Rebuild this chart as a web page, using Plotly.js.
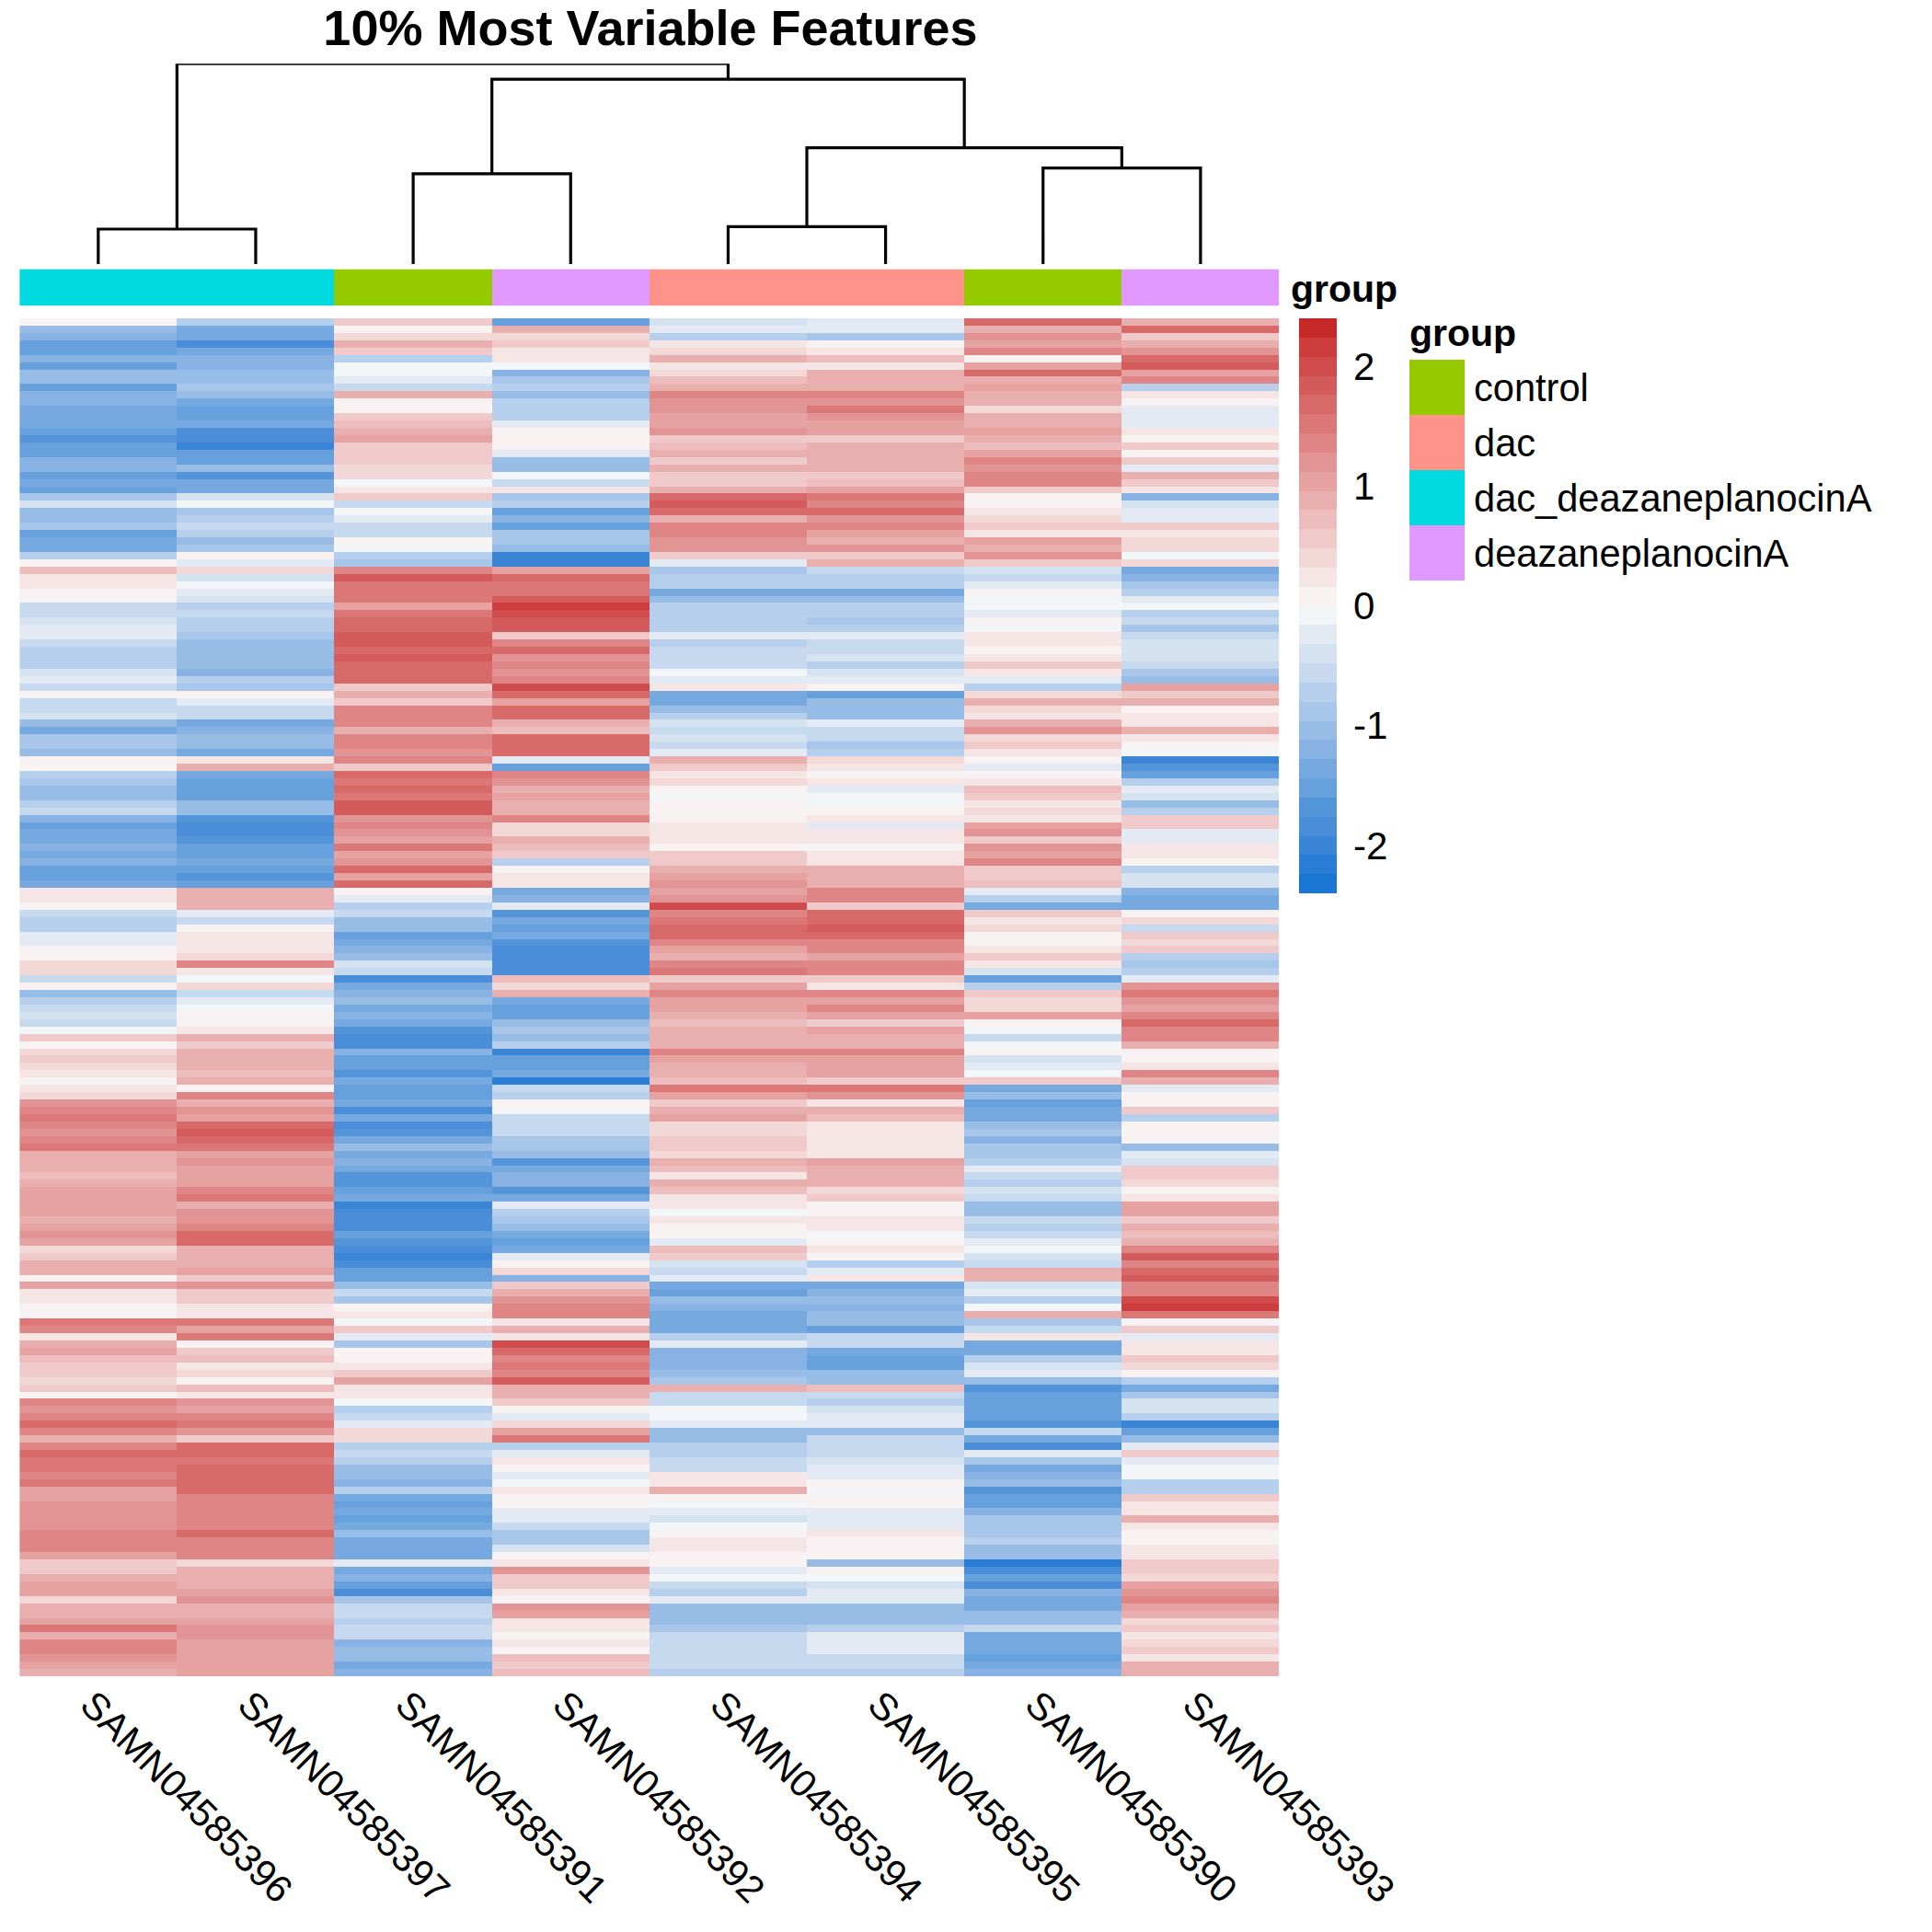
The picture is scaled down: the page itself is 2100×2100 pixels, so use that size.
<!DOCTYPE html>
<html>
<head>
<meta charset="utf-8">
<script src="https://cdn.plot.ly/plotly-3.0.1.min.js"></script>
<style>html,body{margin:0;padding:0;background:#fff}</style>
</head>
<body>
<div id="chart" style="width:2100px;height:2100px"></div>
<script>
const samples = ["SAMN04585396","SAMN04585397","SAMN04585391","SAMN04585392","SAMN04585394","SAMN04585395","SAMN04585390","SAMN04585393"];
const groupNames = ["control","dac","dac_deazaneplanocinA","deazaneplanocinA"];
const groupColors = ["#96CA00","#FF9289","#00DAE0","#E199FF"];
const sampleGroups = [2,2,0,3,1,1,0,3];

const s396 = [
0.1,-1.1,-1.2,-1.6,-1.6,-1.2,-1.5,-1.0,-1.0,-1.5,-1.2,-1.2,-1.3,-1.4,-1.3,-1.5,-1.7,-1.6,-1.6,-1.2,-1.2,-1.6,-1.4,
-1.5,-0.9,-0.4,-1.1,-1.0,-0.9,-1.5,-1.3,-1.3,-0.7,0,0.7,0.2,0.2,0.1,0.1,-0.5,-0.5,-0.4,-0.3,-0.3,-0.6,-0.8,-0.8,
-0.7,-0.4,-0.3,-0.6,0.1,-0.5,-0.6,-0.4,-1.0,-1.3,-0.9,-0.9,-1.0,0.1,0.1,-0.8,-0.9,-1.1,-1.1,-0.7,-0.6,-1.2,-1.5,-1.4,
-1.4,-1.2,-1.3,-1.2,-1.5,-1.6,-1.3,0.2,0.3,0,-0.6,-0.7,-0.7,-0.3,-0.2,0,0,0.4,0.4,-0.5,0.1,-1.0,-0.8,-0.6,
-0.4,-0.5,-0.1,0.6,0.1,0.4,0.5,0.4,0.2,0,0.2,0.4,1.2,1.3,1.5,1.3,1.2,1.4,1.5,0.9,0.8,0.8,0.7,0.8,
1.0,1.1,1.1,1.0,0.8,1.0,1.2,1.1,0.4,0.6,0.9,0.8,0,1.0,0.3,0.2,0,0.1,1.5,1.3,0.2,0.9,1.0,0.7,
0.5,0.5,0.4,0.5,0.1,1.4,1.2,1.4,1.7,1.4,0.8,1.4,1.6,1.5,1.5,1.4,1.5,1.1,1.1,1.2,1.2,1.2,1.2,1.4,
1.3,1.3,1.1,0.6,0.5,0.9,1.1,1.1,0.4,0.8,0.8,1.0,1.5,0.8,1.4,1.3,1.2,1.0,0.9];
const s397 = [
-0.7,-1.4,-1.4,-1.8,-1.4,-1.2,-1.2,-1.0,-1.0,-0.9,-1.1,-1.4,-1.5,-1.5,-1.4,-1.8,-1.8,-2.0,-1.6,-1.5,-1.0,-1.7,-1.4,
-1.4,-0.4,-0.1,-0.9,-0.8,-0.6,-0.8,-1.0,-0.9,0.1,-0.3,0.4,-0.4,-0.1,-0.3,-0.4,-0.8,-0.6,-0.7,-0.7,-0.9,-1.1,-1.1,-1.1,
-1.0,-1.2,-0.8,-0.9,0,-0.3,-0.6,-0.6,-1.4,-1.2,-1.1,-1.1,-1.3,0.3,0.9,-1.3,-1.6,-1.5,-1.5,-1.1,-1.0,-1.7,-1.8,-1.8,
-1.7,-1.5,-1.6,-1.4,-1.5,-1.7,-1.6,0.8,0.8,0.8,-0.2,-0.5,0.1,0.3,0.2,0.3,0.4,1.3,0.3,-0.1,0.4,-0.5,-0.2,-0.1,
0,0.1,0.3,0.8,0.6,0.9,0.9,0.8,0.7,0.8,0.1,1.4,0.9,1.2,1.0,1.6,1.8,1.7,1.5,1.1,1.2,1.0,1.0,1.1,
1.4,1.5,0.9,1.2,1.2,1.4,1.6,1.7,0.9,0.8,0.9,1.1,0.5,1.2,0.6,0.5,0.3,0.2,1.5,1.0,1.5,0.1,0.6,0.7,
0.2,0.4,0.1,0.7,0.2,1.2,1.1,1.4,1.5,1.2,0.6,1.6,1.6,1.5,1.6,1.6,1.6,1.7,1.4,1.4,1.4,1.4,1.4,1.6,
1.4,1.4,1.3,0.4,0.9,0.9,0.9,1.1,1.2,0.8,0.9,1.1,1.2,1.2,1.1,1.1,1.0,1.0,1.0];
const s391 = [
0.5,0.1,0.4,0.8,0.6,-0.7,-0.1,-0.1,-0.3,-0.5,0.9,0.1,0.1,0.6,0.7,0.8,1.1,0.6,0.5,0.5,0.4,0.4,-0.1,
0.3,0.5,-0.6,-0.1,-0.3,-0.6,-0.5,0,-0.1,-0.8,-0.9,1.4,1.8,1.5,1.5,1.5,1.0,1.5,1.6,1.7,1.8,1.8,1.6,1.9,
1.7,1.7,1.6,0.5,0.8,0.6,1.3,1.3,1.3,0.9,1.3,1.3,1.2,1.3,0.6,1.6,1.5,1.6,1.5,1.9,1.9,1.2,1.4,1.2,
1.1,1.5,1.1,1.2,1.6,1.0,1.7,0.1,-0.3,-0.8,-0.6,-1.0,-1.0,-1.6,-1.3,-1.2,-1.0,-0.4,-0.5,-1.9,-1.3,-1.2,-1.1,-1.3,
-1.2,-1.3,-1.7,-1.9,-1.8,-1.2,-1.5,-1.6,-1.7,-1.4,-1.6,-1.6,-1.3,-1.9,-1.3,-1.9,-1.7,-1.3,-1.0,-1.3,-1.2,-1.3,-1.7,-1.7,
-1.5,-1.3,-2.0,-1.9,-1.8,-1.9,-1.6,-1.7,-1.8,-2.0,-1.8,-1.5,-1.6,-1.1,-0.5,-0.9,0,0.2,-0.1,0.5,-0.3,-0.9,0.1,0,
0.3,0.5,1.1,0.2,0.2,-0.1,-0.7,-0.6,-0.2,0.4,0.4,-0.7,-0.6,-0.7,-1.1,-1.0,-1.2,-0.7,-1.4,-1.5,-1.4,-1.6,-1.3,-1.1,
-1.4,-1.4,-1.4,-0.2,-1.4,-1.2,-1.6,-1.8,-0.9,-0.5,-0.5,-0.7,-0.6,-0.5,-1.2,-1.0,-1.0,-1.3,-1.2];
const s392 = [
-1.6,0.8,0.4,0.5,0.3,0.3,-0.1,-1.2,-0.9,-0.8,-1.1,-0.7,-0.7,-0.7,-0.3,0.1,0,0,-0.3,-1.1,-1.0,-0.1,-0.6,
0.2,-0.9,-0.8,-1.6,-1.2,-1.5,-0.9,-0.9,-1.1,-2.0,-2.0,1.0,1.6,1.5,1.5,1.9,2.1,2.0,1.8,1.8,0.5,1.4,1.6,1.2,
1.4,1.2,1.4,2.0,1.6,1.1,1.6,1.7,0.9,0.7,1.6,1.6,1.6,-0.2,-1.5,1.4,1.2,0.9,1.0,0.9,0.9,1.3,0.4,0.4,
0.8,0.7,0.5,-0.8,0.1,0.3,0.2,-1.4,-1.2,-0.3,-1.7,-1.3,-1.6,-1.3,-1.7,-1.9,-1.8,-1.9,-1.8,0.7,0.4,0.9,-1.3,-1.6,
-1.6,-1.1,-0.9,-1.0,-0.7,-2.0,-1.5,-1.5,-1.4,-2.1,-0.5,-0.7,0,-0.1,-0.5,-0.6,-0.6,-0.9,-0.9,-1.0,-1.7,-1.4,-1.2,-1.2,
-1.7,-1.4,-0.3,-0.7,-0.9,-1.1,-1.3,-1.5,-1.4,-0.2,0,0.4,-1.2,0.6,0.8,1.2,1.4,1.3,0.3,0.9,0.3,2.0,1.6,1.4,
1.5,1.4,1.9,0.9,0.9,0.6,0.1,-0.3,0.4,1.0,1.5,-0.7,-0.3,0.2,0.1,-0.2,-0.1,0.2,0.1,0,-0.3,-0.2,-0.5,-0.9,
-0.9,-0.4,0,0.3,1.2,0.5,0.5,0.3,0,1.2,1.0,0.3,0.3,0.1,0.2,0.1,0.7,0.5,0.7];
const s394 = [
-0.4,-0.2,-0.7,0.2,0.4,0.9,0.2,0.4,0.7,0.9,1.3,1.2,1.2,1.1,1.0,1.2,0.5,0.7,0.9,0.6,0.8,0.6,0.6,
0.9,1.6,1.9,1.6,0.9,1.4,1.4,1.2,1.2,0.6,-0.2,-0.9,-0.8,-0.7,-1.3,-1.0,-0.8,-0.7,-0.8,-0.8,-0.3,-0.8,-0.6,-0.5,
-0.6,-0.1,-0.2,0.2,-1.3,-1.4,-1.0,-0.8,-0.4,-0.5,-0.4,-0.6,-0.3,0.9,0.5,0.3,0.4,0,-0.1,0.1,0,0,0.3,0.3,
0.2,0,0.6,0.6,0.9,1.0,1.2,1.1,1.2,2.0,1.4,1.5,1.7,1.6,1.3,1.1,0.9,1.4,1.5,0.5,1.0,1.4,1.0,1.1,
0.9,0.7,0.8,0.8,0.9,1.3,1.0,0.9,0.9,0.7,1.5,1.1,0.6,0.9,1.1,0.4,0.4,0.5,0.5,0.4,0.9,0.7,0.3,0.9,
0.7,0.3,0.2,-0.1,0.2,0.1,0.1,-0.2,0.7,0.5,-0.4,-0.5,-0.3,-1.3,-1.6,-1.0,-1.2,-1.3,-1.3,-1.3,-0.8,-0.2,-1.2,-1.2,
-1.2,-1.0,-0.9,0.8,-0.6,-0.5,-0.1,-0.1,-0.2,-1.0,-1.1,-0.7,-0.7,-0.6,-0.5,0.2,0.2,0.8,0,-0.1,-0.3,-0.4,-0.1,0,
0.2,0.2,0.1,0.1,-0.2,-0.1,-0.6,-0.7,-0.3,-1.0,-1.0,-1.0,-0.9,-0.5,-0.5,-0.6,-0.6,-0.6,-0.7];
const s395 = [
-0.2,-0.3,-0.9,0.1,0.2,0.7,0.3,0.9,0.8,0.8,1.3,1.2,1.5,1.2,1.1,1.0,0.6,0.8,0.9,0.8,0.9,0.5,0.7,
1.1,1.5,1.4,1.6,1.2,1.3,1.1,0.9,1.2,0.5,0.9,-0.6,-0.8,-0.7,-1.4,-1.0,-0.7,-0.8,-0.9,-0.8,-0.3,-0.5,-0.5,-0.4,
-0.7,-0.4,-0.2,0,-1.6,-1.1,-1.1,-1.0,-0.2,-0.5,-0.5,-0.9,-0.7,0.4,0.3,0.1,0.2,-0.2,-0.1,-0.1,0.1,0.2,-0.3,0.3,
0.2,0.1,0.2,0.3,0.9,0.8,0.8,1.3,1.3,0.6,1.6,1.6,1.8,1.6,1.4,1.4,1.1,1.3,1.4,0.5,0.3,1.3,1.0,1.3,
1.1,0.6,1.1,0.8,0.9,1.3,1.0,1.0,1.0,0.5,1.5,1.2,0.2,0.9,0.7,0.3,0.2,0.2,0.2,0.3,1.0,0.9,0.8,0.9,
0.4,0.5,0.1,0,0.2,0.2,-0.1,0,0.2,0.1,-0.7,-0.2,0.3,-1.3,-1.2,-1.0,-1.2,-1.1,-1.1,-1.5,-0.6,-0.6,-1.4,-1.5,
-1.6,-1.1,-1.1,0.7,-0.5,-0.8,-0.4,-0.2,-0.2,-1.0,-0.6,-0.5,-0.6,-0.4,-0.3,-0.2,0.1,-0.1,0,0,-0.2,-0.3,-0.3,0.2,
0,0,0,-1.0,0.1,-0.1,-0.4,-0.2,-0.2,-1.0,-1.1,-1.0,-0.7,-0.2,-0.3,-0.3,-0.5,-0.6,-0.7];
const s390 = [
1.7,0.9,1.2,1.0,1.4,0.1,1.1,1.6,0.9,1.0,0.9,0.8,0.4,0.8,0.9,1.1,0.9,0.7,1.0,1.4,1.2,1.3,1.3,
0.5,0,0.1,0.3,0.4,0.6,0.2,1.1,0.8,1.2,0.5,-0.4,-0.5,-0.2,0.1,-0.1,-0.1,-0.2,0.1,-0.1,0.3,0.3,0,0.3,
0.5,0.2,-0.2,-0.8,0.4,0.9,0.4,0.2,0.9,1.2,0.4,0.5,0.3,0.1,-0.3,0,0.3,0.7,0.6,0.3,0.4,0.3,1.1,1.2,
0.6,1.2,1.1,1.3,0.5,0.6,0.7,-0.2,-0.8,-1.3,0.5,0.3,0.4,0,0.1,0.3,0.5,0.2,-0.4,-1.6,-0.8,0.6,0.4,0.4,
1.0,0,-0.1,-0.6,-0.1,0,-0.4,-0.3,-0.1,0.5,-1.3,-1.1,-1.6,-1.4,-1.3,-1.0,-0.9,-1.2,-0.9,-0.9,-0.7,-0.2,-0.6,-0.7,
-0.4,-0.6,-1.0,-1.0,-0.5,-0.7,-0.6,-0.2,-0.1,-0.4,-0.6,0.9,0.9,-0.4,-0.2,-0.8,-0.1,0.8,-0.9,-0.6,0.2,-1.4,-1.4,-0.8,
-0.4,-0.3,-1.0,-1.7,-1.6,-1.6,-1.5,-1.5,-1.7,-0.5,-1.4,-1.9,-0.2,-0.9,-1.3,-1.2,-1.1,-1.7,-1.6,-1.5,-1.2,-0.9,-0.9,-0.9,
-0.8,-1.1,-1.1,-2.1,-1.8,-1.5,-1.8,-1.2,-1.3,-1.3,-1.0,-1.1,-0.5,-1.4,-1.4,-1.3,-1.5,-1.3,-1.2];
const s393 = [
0.9,1.7,0.6,0.8,1.2,1.6,1.8,1.1,1.3,-0.8,0.2,0,-0.3,-0.2,-0.2,0.2,0.1,0.5,0.1,0.6,-0.2,0.8,0.6,
0.3,-1.2,-0.4,-0.2,-0.3,0.5,0.2,0.4,0.4,-0.1,0.4,-1.4,-1.2,-0.9,-0.7,-0.3,-0.1,-0.7,-0.5,-0.9,-0.5,-0.4,-0.4,-0.4,
-0.5,-0.9,-1.1,1.0,0.6,0.8,0.1,0.2,0.2,0.8,0.3,0.1,-0.1,-2.0,-1.7,-1.5,-0.8,-0.3,-0.4,-1.0,-0.8,0.5,0.5,-0.3,
-0.2,0.3,0.3,0,-0.8,-0.4,-0.4,-1.2,-1.3,-1.4,0.1,0.4,-0.5,0.6,0.4,0.6,-0.8,-0.9,-0.7,-0.3,1.2,1.5,1.2,1.1,
1.3,1.6,1.4,1.4,0.9,0.1,0.1,0.3,1.4,0.9,-0.3,0.1,0.1,0.5,-0.7,0,0.1,0,-1.0,-0.2,-0.4,0.6,0.5,0.4,
0.1,0.3,1.1,1.0,0.6,0.9,0.7,0.9,1.3,1.8,1.4,1.6,1.9,1.3,1.4,2.0,2.1,1.5,0.1,0.5,-0.2,0.3,0.2,0.6,
0.4,0,-0.7,-1.3,-0.9,-0.4,-0.4,-0.8,-2.0,-1.5,-1.1,-0.2,0.5,-0.2,-0.1,-0.1,-0.8,-0.7,0.5,0.2,0.3,0.8,0.3,0.1,
0,0.2,0.3,0.5,0.5,0.4,1.1,1.2,1.4,1.1,0.8,0.4,0.6,0.2,0.4,0.5,0.3,0.8,0.9];

const scaleColors = ["#1976D2","#2A7DD4","#3A85D5","#4A8DD8","#5495DA","#66A0DD","#76A9E0","#87B2E3","#97BDE6","#A7C6E9","#B6CFEC","#C6D9EE","#D5E2F0","#E4EAF4","#F3F6F8",
"#F9F2F2","#F6E5E5","#F3D8D8","#F0CACA","#EDBCBC","#E9AFAF","#E6A1A1","#E29393","#DF8585","#DB7777","#D86969","#D45B5B","#D04C4C","#CD3D3D","#C62828"];

const dendLeft   = [0,2,4,6,4.5,2.5,0.5];
const dendRight  = [1,3,5,7,6.5,5.5,4];
const dendHeight = [38,98.2,40.6,104.4,126.3,200.8,217.8];
const dendLeftBase  = [0,0,0,0,40.6,98.2,38];
const dendRightBase = [0,0,0,0,104.4,126.3,200.8];

const W = 2100, H = 2100;
const px = (a,b)=>[a/W,b/W];
const py = (top,bot)=>[1-bot/H,1-top/H];
const heatX = px(21.2,1390.5);

const columns = [s396,s397,s391,s392,s394,s395,s390,s393];
const rowCount = Math.min(...columns.map(c=>c.length));
const z = [];
for(let r=0;r<rowCount;r++){ z.push(columns.map(c=>c[r])); }

const stepped = [];
scaleColors.forEach((c,i)=>{ stepped.push([i/scaleColors.length,c]); stepped.push([(i+1)/scaleColors.length,c]); });
const groupScale = [];
groupColors.forEach((c,i)=>{ groupScale.push([i/groupColors.length,c]); groupScale.push([(i+1)/groupColors.length,c]); });

const dx=[],dy=[];
dendLeft.forEach((l,i)=>{
  dx.push(l,l,dendRight[i],dendRight[i],null);
  dy.push(dendLeftBase[i],dendHeight[i],dendHeight[i],dendRightBase[i],null);
});

const font = "Liberation Sans, Arial, sans-serif";
const traces = [
 {type:'heatmap',x:samples,y:z.map((_,i)=>i),z:z,xaxis:'x',yaxis:'y',zmin:-2.4,zmax:2.4,colorscale:stepped,
  hoverinfo:'skip',
  colorbar:{x:1412/W,xref:'paper',xanchor:'left',y:1-346/H,yref:'paper',yanchor:'top',lenmode:'pixels',len:625,thicknessmode:'pixels',thickness:41,
    outlinewidth:0,borderwidth:0,xpad:0,ypad:0,tickmode:'array',tickvals:[-2,-1,0,1,2],ticktext:['-2','-1','0','1','2'],
    ticks:'outside',ticklen:10,tickcolor:'rgba(0,0,0,0)',tickwidth:1,tickfont:{family:font,size:42,color:'#000'}}},
 {type:'heatmap',x:samples,y:['group'],z:[sampleGroups],xaxis:'x2',yaxis:'y2',zmin:0,zmax:4,colorscale:groupScale,showscale:false,hoverinfo:'skip',xgap:0},
 {type:'scatter',mode:'lines',x:dx,y:dy,xaxis:'x3',yaxis:'y3',line:{color:'#000',width:3.2},hoverinfo:'skip',cliponaxis:false,connectgaps:false},
 {type:'heatmap',x:['swatch'],y:groupNames,z:groupNames.map((_,i)=>[i]),xaxis:'x4',yaxis:'y4',zmin:0,zmax:4,colorscale:groupScale,showscale:false,hoverinfo:'skip'}
];
const hidden = {showgrid:false,zeroline:false,showline:false,ticks:'',showticklabels:false};
const layout = {
 width:W,height:H,paper_bgcolor:'#fff',plot_bgcolor:'#fff',showlegend:false,
 margin:{l:0,r:0,t:0,b:0,pad:0},
 title:{text:'10% Most Variable Features',x:707/W,xref:'paper',xanchor:'center',y:1-30/H,yref:'container',yanchor:'middle',
   font:{family:font,size:54,weight:'bold',color:'#000'}},
 xaxis:{domain:heatX,type:'category',categoryorder:'array',categoryarray:samples,tickangle:45,ticks:'',showgrid:false,zeroline:false,showline:false,
   tickfont:{family:font,size:41.5,color:'#000'},anchor:'y',automargin:false,ticklabelstandoff:-3,ticklabelshift:-7},
 yaxis:Object.assign({domain:py(346,1822),autorange:false,range:[rowCount-0.5,-0.5],anchor:'x'},hidden),
 xaxis2:Object.assign({domain:heatX,type:'category',categoryarray:samples,anchor:'y2'},hidden),
 yaxis2:Object.assign({domain:py(292.4,332.6),type:'category',anchor:'x2'},hidden),
 xaxis3:Object.assign({domain:heatX,range:[-0.5,7.5],anchor:'y3'},hidden),
 yaxis3:Object.assign({domain:py(69.2,287),range:[0,217.8],anchor:'x3'},hidden),
 xaxis4:Object.assign({domain:px(1532,1592),type:'category',anchor:'y4'},hidden),
 yaxis4:{domain:py(391,631),type:'category',categoryorder:'array',categoryarray:groupNames,autorange:'reversed',anchor:'x4',side:'right',
   showgrid:false,zeroline:false,showline:false,ticks:'',tickfont:{family:font,size:41.6,color:'#000'},automargin:false,ticklabelstandoff:9},
 annotations:[
  {text:'group',xref:'paper',yref:'paper',x:1401/W,y:1-314/H,xanchor:'left',yanchor:'middle',showarrow:false,font:{family:font,size:41,weight:'bold',color:'#000'}},
  {text:'group',xref:'paper',yref:'paper',x:1530/W,y:1-361.5/H,xanchor:'left',yanchor:'middle',showarrow:false,font:{family:font,size:41,weight:'bold',color:'#000'}}
 ]
};
Plotly.newPlot('chart',traces,layout,{displayModeBar:false,responsive:false,staticPlot:true});
</script>
</body>
</html>
